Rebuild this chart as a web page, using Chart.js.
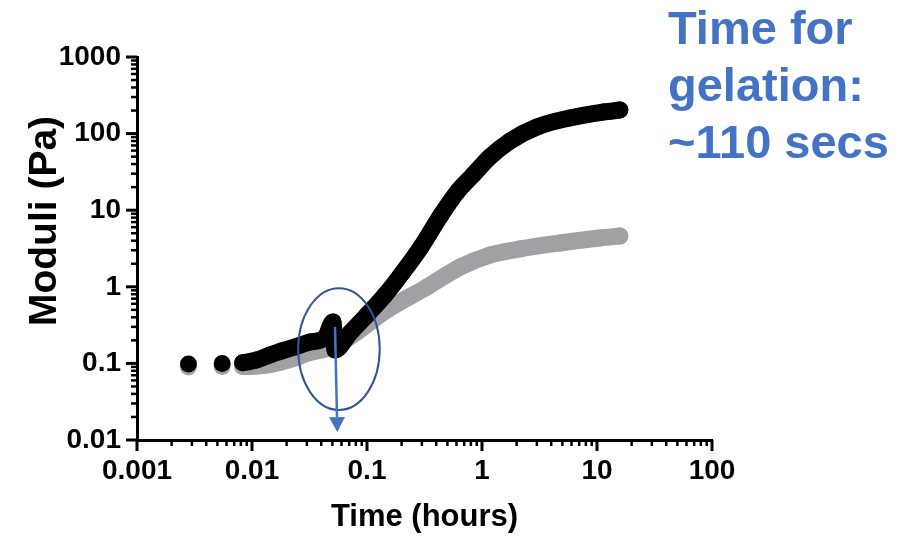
<!DOCTYPE html>
<html>
<head>
<meta charset="utf-8">
<script src="https://cdn.jsdelivr.net/npm/chart.js@4.4.1/dist/chart.umd.min.js"></script>
<style>
  html, body { margin: 0; padding: 0; background: #fff; }
  #wrap { width: 915px; height: 536px; }
</style>
</head>
<body>
<div id="wrap"><canvas id="gel" width="915" height="536"></canvas></div>
<script>
// Storage modulus G' (black) over time, hours / Pa
const storageTime = [0.0028, 0.0055, 0.0083, 0.011, 0.0143, 0.018, 0.0237, 0.032, 0.043, 0.0506, 0.0527,
                     0.0711, 0.100, 0.1435, 0.2056, 0.295, 0.440, 0.618, 0.835, 1.17, 1.75, 3.01, 5.82, 11.3, 15.8];
const storageModulus = [0.098, 0.100, 0.102, 0.111, 0.129, 0.145, 0.164, 0.190, 0.215, 0.347, 0.150,
                        0.249, 0.429, 0.781, 1.56, 3.31, 8.65, 17.8, 28.8, 49.5, 80, 122, 160, 191, 203];

// Loss modulus G'' (grey)
const lossTime = [0.0028, 0.0055, 0.0083, 0.011, 0.0143, 0.018, 0.0237, 0.032, 0.043, 0.0582,
                  0.0819, 0.149, 0.333, 0.644, 1.17, 2.14, 4.76, 10.6, 15.8];
const lossModulus = [0.090, 0.091, 0.091, 0.0925, 0.0967, 0.104, 0.1175, 0.139, 0.154, 0.185,
                     0.257, 0.498, 0.994, 1.81, 2.60, 3.12, 3.73, 4.34, 4.60];

// axis decades and their labels
const xDecades = [0.001, 0.01, 0.1, 1, 10, 100];
const xTickLabels = ['0.001', '0.01', '0.1', '1', '10', '100'];
const yDecades = [0.01, 0.1, 1, 10, 100, 1000];
const yTickLabels = ['0.01', '0.1', '1', '10', '100', '1000'];

// gel point callout (data units)
const gelRing = { tMin: 0.0252, tMax: 0.129, gMin: 0.0247, gMax: 0.96 };
const gelArrow = { t0: 0.0527, g0: 0.30, t1: 0.0552, g1: 0.0127 };
const noteLines = ['Time for', 'gelation:', '~110 secs'];

// first samples are far apart: leave them as separate dots
const looseDots = 2;

const BLUE = '#4472c4';
const DARK_BLUE = '#2f5597';
const GREY = '#a1a1a5';

Chart.defaults.font.family = "'Liberation Sans', Arial, sans-serif";
Chart.defaults.color = '#000';

function toPoints(xs, ys) {
    return xs.map((t, i) => ({ x: t, y: ys[i] }));
}

// 1..9 per decade, decades flagged as major
function logTicks(decades) {
    const ticks = [];
    decades.forEach((d, i) => {
        ticks.push({ value: d, major: true });
        if (i < decades.length - 1) {
            for (let m = 2; m <= 9; m++) ticks.push({ value: m * d, major: false });
        }
    });
    return ticks;
}

function gapColor(ctx) {
    return ctx.p0DataIndex < looseDots ? 'transparent' : undefined;
}

// tick marks: long at decades, short in between
const axisTicks = {
    id: 'axisTicks',
    afterDraw(chart) {
        const { ctx, scales: { x, y } } = chart;
        ctx.save();
        ctx.strokeStyle = '#000';
        x.ticks.forEach(t => {
            const px = x.getPixelForValue(t.value);
            const major = xDecades.includes(t.value);
            ctx.lineWidth = major ? 3 : 2.5;
            ctx.beginPath();
            ctx.moveTo(px, x.top);
            ctx.lineTo(px, x.top + (major ? 11 : 6));
            ctx.stroke();
        });
        y.ticks.forEach(t => {
            const py = y.getPixelForValue(t.value);
            const major = yDecades.includes(t.value);
            ctx.lineWidth = major ? 3 : 2.5;
            ctx.beginPath();
            ctx.moveTo(y.right, py);
            ctx.lineTo(y.right - (major ? 11 : 6), py);
            ctx.stroke();
        });

        // y title, drawn by hand so it can sit a bit above centre
        ctx.translate(45, 221);
        ctx.rotate(-Math.PI / 2);
        ctx.font = "bold 39px 'Liberation Sans', Arial, sans-serif";
        ctx.textAlign = 'center';
        ctx.textBaseline = 'middle';
        ctx.fillStyle = '#000';
        ctx.fillText('Moduli (Pa)', 0, 0);
        ctx.restore();
    }
};

// ellipse + arrow round the gel point, and the blue note
const gelNote = {
    id: 'gelNote',
    afterDatasetsDraw(chart) {
        const { ctx, scales: { x, y } } = chart;
        ctx.save();

        const left = x.getPixelForValue(gelRing.tMin), right = x.getPixelForValue(gelRing.tMax);
        const top = y.getPixelForValue(gelRing.gMax), bottom = y.getPixelForValue(gelRing.gMin);
        ctx.strokeStyle = DARK_BLUE;
        ctx.lineWidth = 2;
        ctx.beginPath();
        ctx.ellipse((left + right) / 2, (top + bottom) / 2, (right - left) / 2, (bottom - top) / 2, 0, 0, Math.PI * 2);
        ctx.stroke();

        const ax0 = x.getPixelForValue(gelArrow.t0), ay0 = y.getPixelForValue(gelArrow.g0);
        const ax1 = x.getPixelForValue(gelArrow.t1), ay1 = y.getPixelForValue(gelArrow.g1);
        const ang = Math.atan2(ay1 - ay0, ax1 - ax0);
        const head = 15, half = 8;
        const bx = ax1 - head * Math.cos(ang), by = ay1 - head * Math.sin(ang);
        ctx.strokeStyle = BLUE;
        ctx.fillStyle = BLUE;
        ctx.lineWidth = 2.5;
        ctx.beginPath();
        ctx.moveTo(ax0, ay0);
        ctx.lineTo(bx, by);
        ctx.stroke();
        ctx.beginPath();
        ctx.moveTo(ax1, ay1);
        ctx.lineTo(bx + half * Math.sin(ang), by - half * Math.cos(ang));
        ctx.lineTo(bx - half * Math.sin(ang), by + half * Math.cos(ang));
        ctx.closePath();
        ctx.fill();

        ctx.font = "bold 47px 'Liberation Sans', Arial, sans-serif";
        ctx.textAlign = 'left';
        ctx.textBaseline = 'alphabetic';
        noteLines.forEach((line, i) => ctx.fillText(line, 668, 44 + i * 57));
        ctx.restore();
    }
};

new Chart(document.getElementById('gel'), {
    type: 'scatter',
    data: {
        datasets: [
            {
                label: "G'",
                data: toPoints(storageTime, storageModulus),
                showLine: true,
                borderColor: '#000',
                backgroundColor: '#000',
                borderWidth: 17,
                borderCapStyle: 'round',
                borderJoinStyle: 'round',
                cubicInterpolationMode: 'monotone',
                pointRadius: 8.5,
                pointBorderWidth: 0,
                segment: { borderColor: gapColor }
            },
            {
                label: "G''",
                data: toPoints(lossTime, lossModulus),
                showLine: true,
                borderColor: GREY,
                backgroundColor: GREY,
                borderWidth: 17,
                borderCapStyle: 'round',
                borderJoinStyle: 'round',
                cubicInterpolationMode: 'monotone',
                pointRadius: 8.5,
                pointBorderWidth: 0,
                segment: { borderColor: gapColor }
            }
        ]
    },
    options: {
        responsive: false,
        animation: false,
        layout: { padding: { left: 0, top: 57, right: 203, bottom: 0 } },
        plugins: { legend: { display: false }, tooltip: { enabled: false } },
        scales: {
            x: {
                type: 'logarithmic',
                min: 0.001,
                max: 100,
                afterBuildTicks: s => { s.ticks = logTicks(xDecades); },
                afterFit: s => { s.height = 96; },
                border: { color: '#000', width: 3 },
                grid: { drawOnChartArea: false, tickLength: 11, tickColor: 'transparent' },
                ticks: {
                    autoSkip: false,
                    maxRotation: 0,
                    padding: 3,
                    font: { size: 28, weight: 'bold' },
                    callback: (v, i, ticks) => {
                        const k = xDecades.indexOf(ticks[i].value);
                        return k >= 0 ? xTickLabels[k] : '';
                    }
                },
                title: {
                    display: true,
                    text: 'Time (hours)',
                    font: { size: 31, weight: 'bold' },
                    padding: { top: 0, bottom: 0 }
                }
            },
            y: {
                type: 'logarithmic',
                min: 0.01,
                max: 1000,
                afterBuildTicks: s => { s.ticks = logTicks(yDecades); },
                afterFit: s => { s.width = 137; },
                border: { color: '#000', width: 3 },
                grid: { drawOnChartArea: false, tickLength: 11, tickColor: 'transparent' },
                ticks: {
                    autoSkip: false,
                    padding: 5,
                    font: { size: 28, weight: 'bold' },
                    callback: (v, i, ticks) => {
                        const k = yDecades.indexOf(ticks[i].value);
                        return k >= 0 ? yTickLabels[k] : '';
                    }
                }
            }
        }
    },
    plugins: [gelNote, axisTicks]
});
</script>
</body>
</html>
